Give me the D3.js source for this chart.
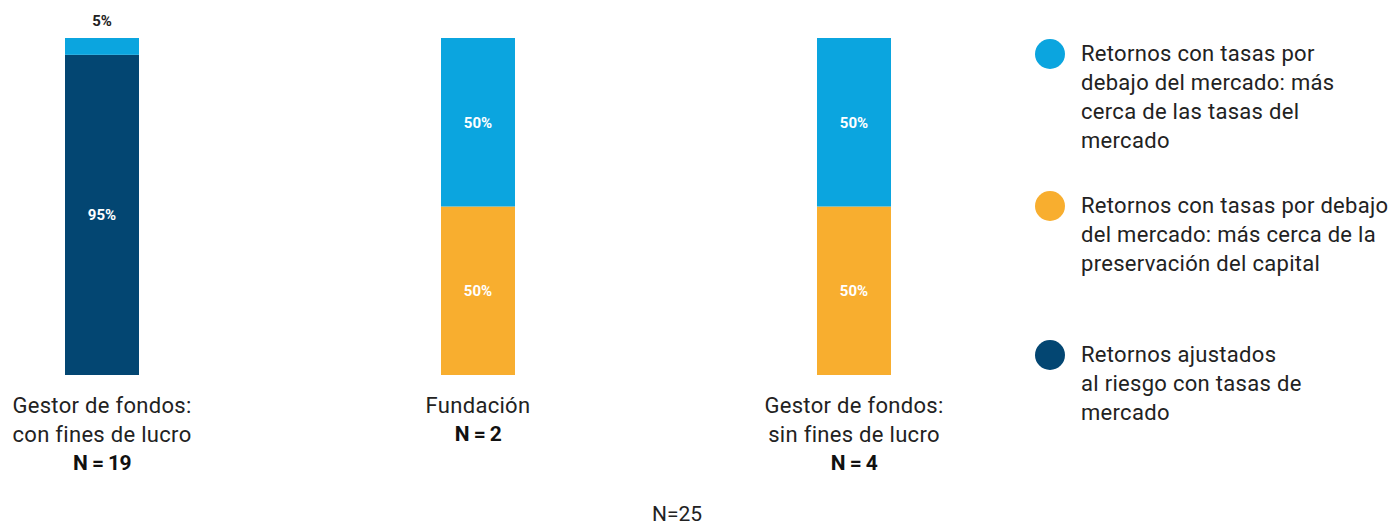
<!DOCTYPE html>
<html><head><meta charset="utf-8">
<script src="https://cdn.jsdelivr.net/npm/d3@7"></script>
<style>
body{margin:0;background:#fff;}
svg text{font-family:Roboto,"Noto Sans",sans-serif;}
</style></head>
<body><svg id="c" width="1398" height="527"></svg>
<script>
const categories = [["Gestor de fondos:", "con fines de lucro"], ["Fundación"], ["Gestor de fondos:", "sin fines de lucro"]];
const nLabels = ["N = 19", "N = 2", "N = 4"];
const seriesKeys = ["ajustados", "preservacion", "mercado"];
const ajustados = [95, 0, 0];
const preservacion = [0, 50, 50];
const mercado = [5, 50, 50];
const colors = ["#034672", "#f8ae2f", "#0ba5df"];
const legendLabels = [
  ["Retornos con tasas por", "debajo del mercado: más", "cerca de las tasas del", "mercado"],
  ["Retornos con tasas por debajo", "del mercado: más cerca de la", "preservación del capital"],
  ["Retornos ajustados", "al riesgo con tasas de", "mercado"]
];
const legendKeys = ["mercado", "preservacion", "ajustados"];
const totalLabel = "N=25";

const data = categories.map((c, i) => ({i, ajustados: ajustados[i], preservacion: preservacion[i], mercado: mercado[i]}));
const svg = d3.select("#c");
const x = d3.scaleBand().domain(d3.range(categories.length)).range([65, 891]).paddingInner(0.8032).paddingOuter(0);
const y = d3.scaleLinear().domain([0, 100]).range([375, 38]);
const color = d3.scaleOrdinal().domain(seriesKeys).range(colors);
const stacked = d3.stack().keys(seriesKeys)(data);

const g = svg.append("g");
stacked.forEach(s => {
  g.selectAll(null).data(s).enter().append("rect")
    .attr("x", d => x(d.data.i)).attr("width", x.bandwidth())
    .attr("y", d => y(d[1])).attr("height", d => y(d[0]) - y(d[1]))
    .attr("fill", color(s.key));
  g.selectAll(null).data(s.filter(d => d[1] - d[0] > 0)).enter().append("text")
    .attr("x", d => x(d.data.i) + x.bandwidth() / 2)
    .attr("y", d => (d[1] - d[0]) < 10 ? y(d[1]) - 12 : (y(d[0]) + y(d[1])) / 2 + 5.5)
    .attr("text-anchor", "middle").attr("font-size", 15).attr("font-weight", 700)
    .attr("fill", d => (d[1] - d[0]) < 10 ? "#222" : "#fff")
    .text(d => (d[1] - d[0]) + "%");
});

categories.forEach((lines, i) => {
  const cx = x(i) + x.bandwidth() / 2;
  const t = svg.append("text").attr("text-anchor", "middle").attr("fill", "#222").attr("font-size", 22).attr("letter-spacing", 0.3);
  lines.forEach((l, j) => t.append("tspan").attr("x", cx).attr("y", 413 + j * 29).text(l));
  svg.append("text").attr("text-anchor", "middle").attr("x", cx).attr("y", 413 + lines.length * 29 - 1)
    .attr("font-size", 21).attr("font-weight", 700).attr("letter-spacing", -0.6).attr("fill", "#111").text(nLabels[i]);
});

const legendY = [54, 206, 355];
legendKeys.forEach((k, i) => {
  svg.append("circle").attr("cx", 1050).attr("cy", legendY[i]).attr("r", 15).attr("fill", color(k));
  const t = svg.append("text").attr("fill", "#222").attr("font-size", 22).attr("letter-spacing", 0.3);
  legendLabels[i].forEach((l, j) => t.append("tspan").attr("x", 1081).attr("y", legendY[i] + 7 + j * 29).text(l));
});

svg.append("text").attr("x", 677).attr("y", 521).attr("text-anchor", "middle").attr("font-size", 21).attr("fill", "#222").text(totalLabel);
</script></body></html>
